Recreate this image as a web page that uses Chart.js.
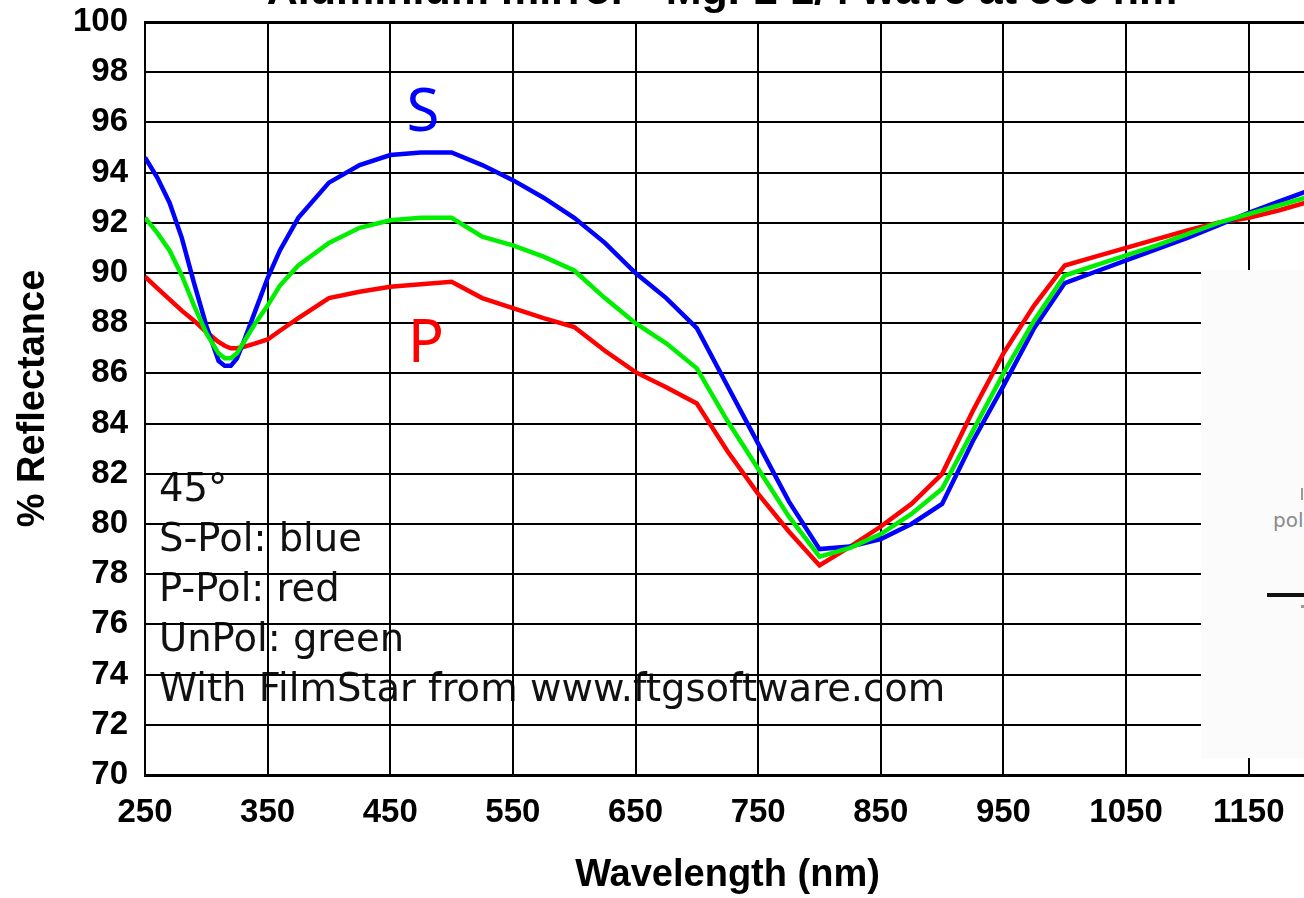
<!DOCTYPE html>
<html>
<head>
<meta charset="utf-8">
<title>Aluminium mirror - reflectance at 45°</title>
<script src="https://cdn.jsdelivr.net/npm/chart.js@4.4.1/dist/chart.umd.min.js"></script>
<style>
    html, body { margin: 0; padding: 0; background: #fff; overflow: hidden; }
    #wrap { position: relative; width: 1304px; height: 898px; overflow: hidden; }
    #reflectanceChart { position: absolute; left: 0; top: 0; }
    #inset { position: absolute; left: 1201px; top: 270px; width: 110px; height: 488px; background: #fafbfa; }
    #inset .pol { position: absolute; left: 72px; top: 238px; font: 20px 'DejaVu Sans', sans-serif; color: #8a8a8a; }
    #inset .bar { position: absolute; left: 100px; top: 218px; width: 2px; height: 12px; background: #9a9a9a; }
    #inset .line { position: absolute; left: 66px; top: 323px; width: 50px; height: 4px; background: #111; }
    #inset .dot { position: absolute; left: 100px; top: 335px; width: 3px; height: 3px; background: #999; }
</style>
</head>
<body>
<div id="wrap">
    <canvas id="reflectanceChart" width="1320" height="898"></canvas>
    <div id="inset">
        <div class="bar"></div>
        <div class="pol">pol</div>
        <div class="line"></div>
        <div class="dot"></div>
    </div>
</div>
<script>
// wavelength grid (nm)
const wavelengths = [250, 260, 270, 280, 290, 300, 310, 315, 320, 325, 330, 340, 350, 360, 375, 400,
    425, 450, 475, 500, 525, 550, 575, 600, 625, 650, 675, 700, 725, 750, 775, 800,
    825, 850, 875, 900, 925, 950, 975, 1000, 1025, 1050, 1075, 1100, 1125, 1150, 1175, 1200];

// % reflectance
const sPol = [94.6, 93.8, 92.8, 91.4, 89.6, 87.9, 86.5, 86.3, 86.3, 86.6, 87.2, 88.5, 89.8, 90.9, 92.2, 93.6,
    94.3, 94.7, 94.8, 94.8, 94.3, 93.7, 93.0, 92.2, 91.2, 90.0, 89.0, 87.8, 85.5, 83.2, 80.9, 79.0,
    79.1, 79.4, 80.0, 80.8, 83.3, 85.5, 87.8, 89.6, 90.05, 90.5, 90.95, 91.4, 91.9, 92.4, 92.85, 93.3];

const pPol = [89.85, 89.4, 88.95, 88.5, 88.1, 87.65, 87.25, 87.1, 87.0, 87.0, 87.05, 87.2, 87.35, 87.7, 88.2, 89.0,
    89.25, 89.45, 89.55, 89.65, 89.0, 88.6, 88.2, 87.85, 86.9, 86.05, 85.45, 84.8, 82.9, 81.2, 79.7, 78.35,
    79.1, 79.9, 80.8, 82.0, 84.5, 86.8, 88.7, 90.3, 90.65, 91.0, 91.35, 91.7, 92.0, 92.2, 92.5, 92.85];

const unPol = [92.2, 91.6, 90.9, 89.9, 88.7, 87.6, 86.8, 86.6, 86.6, 86.8, 87.2, 88.0, 88.7, 89.5, 90.3, 91.2,
    91.8, 92.1, 92.2, 92.2, 91.45, 91.1, 90.65, 90.1, 89.0, 88.0, 87.2, 86.2, 84.1, 82.2, 80.3, 78.7,
    79.05, 79.6, 80.4, 81.4, 83.7, 86.0, 88.1, 89.9, 90.3, 90.7, 91.1, 91.55, 92.0, 92.35, 92.7, 93.05];

const xTicks = [250, 350, 450, 550, 650, 750, 850, 950, 1050, 1150];
const yTicks = [70, 72, 74, 76, 78, 80, 82, 84, 86, 88, 90, 92, 94, 96, 98, 100];

const chartTitle = 'Aluminium mirror - MgF2 1/4 wave at 550 nm';
const notes = ['45°', 'S-Pol: blue', 'P-Pol: red', 'UnPol: green', 'With FilmStar from www.ftgsoftware.com'];

document.addEventListener('DOMContentLoaded', function () {

    const tickFont = { family: "'Liberation Sans', Arial, sans-serif", size: 33, weight: 'bold' };
    const axisFont = { family: "'Liberation Sans', Arial, sans-serif", size: 38, weight: 'bold' };

    const toPoints = (vals) => wavelengths.map((w, i) => ({ x: w, y: vals[i] }));

    // --- notes under the grid ---
    const notesPlugin = {
        id: 'notes',
        beforeDraw(chart) {
            const ctx = chart.ctx;
            ctx.save();
            ctx.font = "38.5px 'DejaVu Sans', sans-serif";
            ctx.fillStyle = '#111';
            ctx.textAlign = 'left';
            ctx.textBaseline = 'alphabetic';
            notes.forEach((t, i) => ctx.fillText(t, 159, 501 + i * 50));
            ctx.restore();
        }
    };

    // --- title (cut at the top) and S / P labels ---
    const labelsPlugin = {
        id: 'labels',
        afterDraw(chart) {
            const ctx = chart.ctx;
            ctx.save();
            ctx.textAlign = 'center';
            ctx.textBaseline = 'alphabetic';
            ctx.fillStyle = '#000';
            ctx.font = "bold 43px 'Liberation Sans', Arial, sans-serif";
            ctx.fillText(chartTitle, 722, 4);

            ctx.font = "60px 'Noto Sans', sans-serif";
            ctx.fillStyle = '#0000ff';
            ctx.fillText('S', 423, 131);
            ctx.fillStyle = '#ff0000';
            ctx.fillText('P', 426, 362);
            ctx.restore();
        }
    };

    new Chart(document.getElementById('reflectanceChart').getContext('2d'), {
        type: 'line',
        data: {
            datasets: [
                { label: 'UnPol', data: toPoints(unPol), borderColor: '#00ee00' },
                { label: 'S-Pol', data: toPoints(sPol), borderColor: '#0000ff' },
                { label: 'P-Pol', data: toPoints(pPol), borderColor: '#ff0000' }
            ].map(d => Object.assign(d, { borderWidth: 4.5, pointRadius: 0, tension: 0, fill: false }))
        },
        options: {
            responsive: false,
            animation: false,
            devicePixelRatio: 1,
            layout: { padding: { top: 22, right: 10, left: 0, bottom: 0 } },
            plugins: {
                legend: { display: false },
                tooltip: { enabled: false },
                title: { display: false }
            },
            scales: {
                x: {
                    type: 'linear',
                    min: 250,
                    max: 1200,
                    afterBuildTicks: (s) => { s.ticks = xTicks.map(v => ({ value: v })); },
                    afterFit: (s) => { s.height = 123; s.paddingLeft = 0; s.paddingRight = 0; },
                    grid: { color: '#000', lineWidth: 2, drawTicks: false },
                    border: { color: '#000', width: 3 },
                    ticks: {
                        color: '#000', font: tickFont, padding: 18, maxRotation: 0, autoSkip: false,
                        callback: (v) => String(v)
                    },
                    title: { display: true, text: 'Wavelength (nm)', color: '#000', font: axisFont, padding: { top: 0, bottom: 0 } }
                },
                y: {
                    type: 'linear',
                    min: 70,
                    max: 100,
                    afterBuildTicks: (s) => { s.ticks = yTicks.map(v => ({ value: v })); },
                    afterFit: (s) => { s.width = 145; s.paddingTop = 0; s.paddingBottom = 0; },
                    grid: {
                        color: '#000',
                        lineWidth: (c) => (c.tick && c.tick.value === 100 ? 3 : 2),
                        drawTicks: false
                    },
                    border: { color: '#000', width: 2 },
                    ticks: { color: '#000', font: tickFont, padding: 17, callback: (v) => String(v) },
                    title: { display: true, text: '% Reflectance', color: '#000', font: axisFont, padding: { top: 11, bottom: 0 } }
                }
            }
        },
        plugins: [notesPlugin, labelsPlugin]
    });
});
</script>
</body>
</html>
